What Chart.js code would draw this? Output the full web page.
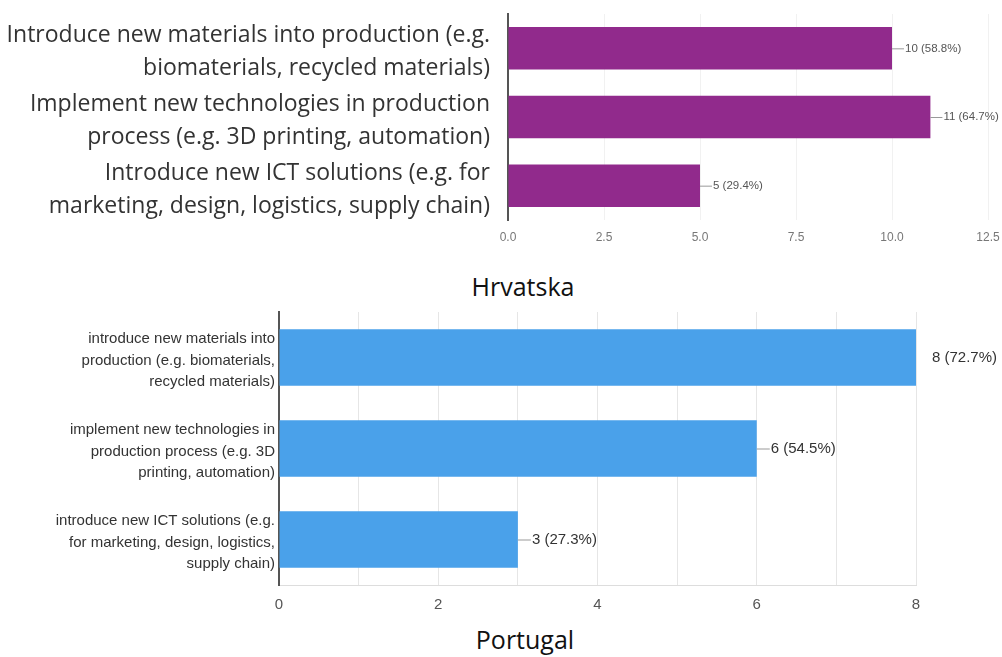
<!DOCTYPE html>
<html>
<head>
<meta charset="utf-8">
<script src="https://cdn.jsdelivr.net/npm/chart.js@4"></script>
<style>
  body { margin: 0; background: #fff; width: 1002px; height: 657px; position: relative; overflow: hidden; }
  .box { position: absolute; left: 0; width: 1002px; }
  .title { position: absolute; left: 0; width: 1002px; text-align: center; font-family: "Open Sans", sans-serif; font-size: 25px; color: #111; }
</style>
</head>
<body>
<div class="box" style="top:0;height:250px"><canvas id="hrChart"></canvas></div>
<div class="title" style="top:269px;left:22px">Hrvatska</div>
<div class="box" style="top:300px;height:320px"><canvas id="ptChart"></canvas></div>
<div class="title" style="top:622px;left:24px">Portugal</div>
<script>
// Hrvatska
const hrLabels = [
    ['Introduce new materials into production (e.g.', 'biomaterials, recycled materials)'],
    ['Implement new technologies in production', 'process (e.g. 3D printing, automation)'],
    ['Introduce new ICT solutions (e.g. for', 'marketing, design, logistics, supply chain)']
];
const hrValues = [10, 11, 5];
const hrPercents = ['58.8%', '64.7%', '29.4%'];

// Portugal
const ptLabels = [
    ['introduce new materials into', 'production (e.g. biomaterials,', 'recycled materials)'],
    ['implement new technologies in', 'production process (e.g. 3D', 'printing, automation)'],
    ['introduce new ICT solutions (e.g.', 'for marketing, design, logistics,', 'supply chain)']
];
const ptValues = [8, 6, 3];
const ptPercents = ['72.7%', '54.5%', '27.3%'];

// etiketa s crticom desno od stupca
function valueLabels(percents, opts) {
    return {
        id: 'valueLabels',
        afterDatasetsDraw(chart) {
            const ctx = chart.ctx;
            const meta = chart.getDatasetMeta(0);
            const data = chart.data.datasets[0].data;
            ctx.save();
            ctx.font = opts.font;
            ctx.textBaseline = 'middle';
            meta.data.forEach(function(bar, i) {
                const len = opts.lines[i];
                if (len > 0) {
                    ctx.strokeStyle = '#999';
                    ctx.lineWidth = 1;
                    ctx.beginPath();
                    ctx.moveTo(bar.x, bar.y + 0.5);
                    ctx.lineTo(bar.x + len, bar.y + 0.5);
                    ctx.stroke();
                }
                ctx.fillStyle = opts.color;
                ctx.fillText(data[i] + ' (' + percents[i] + ')', bar.x + (len > 0 ? len + 1 : opts.gap), bar.y);
            });
            ctx.restore();
        }
    };
}

// bez dodatnog razmaka za visoke oznake
function fixY(width) {
    return function(s) {
        s.width = width;
        s.paddingTop = 0;
        s.paddingBottom = 0;
    };
}

new Chart(document.getElementById('hrChart'), {
    type: 'bar',
    data: {
        labels: hrLabels,
        datasets: [{
            data: hrValues,
            backgroundColor: '#912A8C',
            barPercentage: 0.62,
            categoryPercentage: 1
        }]
    },
    options: {
        indexAxis: 'y',
        responsive: true,
        maintainAspectRatio: false,
        animation: false,
        layout: { padding: { top: 14, right: 14, left: 0, bottom: 0 } },
        plugins: { legend: { display: false }, tooltip: { enabled: false } },
        scales: {
            x: {
                min: 0,
                max: 12.5,
                ticks: {
                    stepSize: 2.5,
                    padding: 10,
                    color: '#777',
                    font: { family: 'Liberation Sans', size: 12 },
                    callback: function(v) { return v.toFixed(1); }
                },
                grid: { color: '#f1f1f1', drawTicks: false },
                border: { display: false },
                afterFit: function(s) { s.height = 30; s.paddingLeft = 0; s.paddingRight = 0; }
            },
            y: {
                ticks: {
                    autoSkip: false,
                    padding: 18,
                    labelOffset: 4,
                    color: '#333',
                    font: { family: 'Open Sans', size: 23, lineHeight: 1.43 }
                },
                grid: { display: false, drawTicks: false },
                border: { color: '#555', width: 2 },
                afterFit: fixY(508)
            }
        }
    },
    plugins: [valueLabels(hrPercents, { font: '11.5px "Liberation Sans"', color: '#555', lines: [12, 12, 12], gap: 4 })]
});

new Chart(document.getElementById('ptChart'), {
    type: 'bar',
    data: {
        labels: ptLabels,
        datasets: [{
            data: ptValues,
            backgroundColor: '#4AA1EA',
            barPercentage: 0.62,
            categoryPercentage: 1
        }]
    },
    options: {
        indexAxis: 'y',
        responsive: true,
        maintainAspectRatio: false,
        animation: false,
        layout: { padding: { top: 12, right: 86, left: 0, bottom: 0 } },
        plugins: { legend: { display: false }, tooltip: { enabled: false } },
        scales: {
            x: {
                min: 0,
                max: 8,
                ticks: {
                    stepSize: 1,
                    padding: 11,
                    color: '#555',
                    font: { family: 'Liberation Sans', size: 15 },
                    callback: function(v) { return v % 2 === 0 ? v : ''; }
                },
                grid: { color: '#e6e6e6', drawTicks: false },
                border: { color: '#ddd', width: 1 },
                afterFit: function(s) { s.height = 35; s.paddingLeft = 0; s.paddingRight = 0; }
            },
            y: {
                ticks: {
                    autoSkip: false,
                    padding: 4,
                    labelOffset: 3,
                    color: '#333',
                    font: { family: 'Liberation Sans', size: 15, lineHeight: 1.45 }
                },
                grid: { display: false, drawTicks: false },
                border: { color: '#555', width: 2 },
                afterFit: fixY(279)
            }
        }
    },
    plugins: [valueLabels(ptPercents, { font: '15px "Liberation Sans"', color: '#333', lines: [0, 13, 13], gap: 16 })]
});
</script>
</body>
</html>
